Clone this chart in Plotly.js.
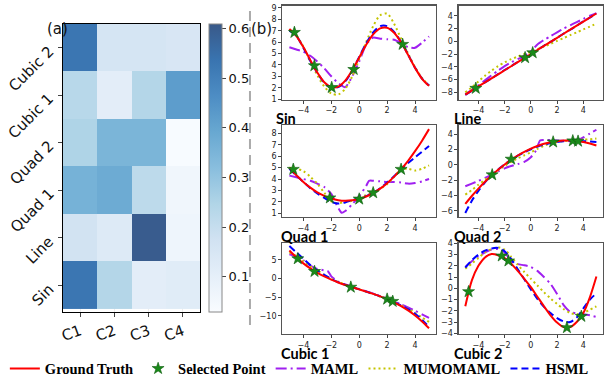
<!DOCTYPE html>
<html>
<head>
<meta charset="utf-8">
<script src="https://cdn.plot.ly/plotly-3.0.1.min.js"></script>
<style>html,body{margin:0;padding:0;background:#fff}#chart{width:606px;height:380px}</style>
</head>
<body>
<div id="chart"></div>
<script>
// ---------- heatmap data ----------
const hmCols = ['C1','C2','C3','C4'];
const hmRows = ['Sin','Line','Quad 1','Quad 2','Cubic 1','Cubic 2'];
const hmSin    = [0.53, 0.24, 0.11, 0.12];
const hmLine   = [0.17, 0.13, 0.60, 0.07];
const hmQuad1  = [0.36, 0.38, 0.22, 0.06];
const hmQuad2  = [0.25, 0.35, 0.35, 0.035];
const hmCubic1 = [0.23, 0.11, 0.24, 0.42];
const hmCubic2 = [0.53, 0.16, 0.16, 0.15];
const cbTicks = [0.1, 0.2, 0.3, 0.4, 0.5, 0.6];

// ---------- curve data ----------
const xs = [-5,-4.5,-4,-3.5,-3,-2.5,-2,-1.5,-1,-0.5,0,0.5,1,1.5,2,2.5,3,3.5,4,4.5,5];

const sinTruth = [7.14,6.53,5.56,4.42,3.33,2.48,2.04,2.09,2.62,3.53,4.65,5.77,6.68,7.21,7.26,6.82,5.98,4.88,3.74,2.78,2.16];
const sinHSML  = [7.0,6.55,5.5,4.35,3.3,2.45,2.0,2.05,2.55,3.5,4.7,5.9,6.85,7.4,7.4,6.9,6.0,4.9,3.75,2.8,2.2];
const sinMUMO  = [7.1,6.6,5.6,4.3,3.1,2.1,1.5,1.4,1.9,3.0,4.5,6.0,7.4,8.35,8.5,7.6,6.3,5.0,3.8,2.85,2.2];
const sinMAMLx = xs;
const sinMAML  = [5.55,5.35,5.15,4.8,4.3,3.7,3.0,2.4,2.05,3.0,4.3,5.8,6.4,6.3,6.25,6.2,5.9,5.55,5.5,5.95,6.5];
const sinStarX = [-4.64,-3.21,-1.97,-0.39,3.11];
const sinStarY = [6.85,3.93,2.02,3.6,5.8];

const lineTruth = [-8.35,-7.72,-7.08,-6.45,-5.81,-5.18,-4.54,-3.91,-3.27,-2.64,-2.0,-1.37,-0.73,-0.1,0.54,1.18,1.81,2.45,3.08,3.72,4.35];
const lineHSML  = [-8.4,-7.75,-7.1,-6.45,-5.8,-5.15,-4.5,-3.9,-3.25,-2.6,-2.0,-1.35,-0.7,-0.1,0.55,1.2,1.8,2.45,3.1,3.7,4.3];
const lineMUMO  = [-8.0,-7.2,-6.3,-5.4,-4.6,-3.9,-3.3,-2.8,-2.4,-2.0,-1.65,-1.25,-0.85,-0.4,0.05,0.5,0.95,1.4,1.85,2.3,2.75];
const lineMAMLx = xs;
const lineMAML  = [-8.3,-7.6,-6.9,-6.1,-5.35,-4.6,-3.9,-3.3,-2.8,-2.3,-1.6,-0.5,0.2,0.8,1.4,2.0,2.5,3.0,3.5,4.0,4.4];
const lineStarX = [-4.2,-0.44,0.14];
const lineStarY = [-7.37,-2.57,-1.8];

const q1Truth = [5.00,4.33,3.75,3.25,2.84,2.53,2.30,2.15,2.10,2.14,2.26,2.47,2.77,3.16,3.64,4.21,4.86,5.60,6.44,7.36,8.37];
const q1HSML  = [4.9,4.3,3.75,3.2,2.75,2.35,2.0,1.85,1.95,2.15,2.3,2.5,2.8,3.2,3.7,4.25,4.85,5.4,5.9,6.4,6.9];
const q1MUMO  = [5.0,4.9,4.7,4.2,3.6,2.8,2.05,1.9,2.0,2.1,2.3,2.6,2.8,3.15,3.55,4.2,4.85,4.9,4.75,4.9,5.2];
const q1MAMLx = [-5,-4.5,-4,-3.5,-3,-2.5,-2,-1.6,-1.25,-1,-0.5,0,0.5,0.7,1,1.5,2,2.5,3,3.5,4,4.5,5];
const q1MAML  = [4.3,4.15,4.0,3.85,3.6,3.3,2.7,1.7,1.05,1.2,1.8,2.5,3.4,3.85,3.85,3.8,3.75,3.75,3.7,3.6,3.65,3.8,4.0];
const q1StarX = [-4.72,-2.1,0.0,1.0,3.0];
const q1StarY = [4.85,2.35,2.25,2.8,4.85];

const q2Truth = [-5.10,-4.07,-3.11,-2.21,-1.39,-0.63,0.06,0.68,1.23,1.71,2.13,2.48,2.76,2.97,3.11,3.19,3.19,3.13,3.00,2.81,2.54];
const q2HSML  = [-6.3,-4.7,-3.4,-2.3,-1.35,-0.6,0.05,0.7,1.2,1.65,2.05,2.4,2.65,2.85,3.0,3.1,3.15,3.15,3.1,3.05,3.0];
const q2MUMO  = [-3.9,-3.3,-2.6,-1.95,-1.35,-0.7,-0.15,0.4,0.85,1.25,1.65,2.1,2.5,2.8,3.0,3.1,3.2,3.25,3.3,3.35,3.45];
const q2MAMLx = [-5,-4.5,-4,-3.5,-3,-2.5,-2,-1.5,-1,-0.5,0,0.4,0.7,1,1.5,2,2.5,3,3.5,4,4.5,5];
const q2MAML  = [-2.8,-2.45,-2.1,-1.7,-1.3,-0.85,-0.45,-0.15,0.1,0.4,1.0,1.9,3.2,3.25,3.25,3.2,3.15,3.1,3.2,3.6,4.1,4.6];
const q2StarX = [-2.95,-1.5,1.7,3.2,3.6];
const q2StarY = [-1.3,0.75,3.0,3.15,3.1];

const c1Truth = [7.49,5.66,4.07,2.72,1.55,0.56,-0.30,-1.05,-1.71,-2.32,-2.9,-3.48,-4.09,-4.75,-5.50,-6.36,-7.35,-8.52,-9.87,-11.46,-13.29];
const c1HSML  = [8.7,7.0,5.3,3.6,2.2,1.0,-0.1,-1.0,-1.7,-2.3,-2.9,-3.5,-4.1,-4.75,-5.5,-6.3,-7.2,-8.2,-9.4,-11.0,-13.0];
const c1MUMO  = [7.0,6.0,4.6,3.3,2.2,1.0,-0.1,-0.9,-1.6,-2.3,-2.9,-3.5,-4.1,-4.8,-5.5,-6.3,-7.2,-8.1,-9.2,-10.4,-11.6];
const c1MAMLx = [-5,-4.5,-4,-3.5,-3,-2.5,-2.25,-2,-1.5,-1,-0.5,0,0.5,1,1.5,2,2.5,3,3.5,4,4.5,5];
const c1MAML  = [6.5,5.9,4.9,3.5,2.6,2.2,2.0,0.6,-0.8,-1.6,-2.2,-2.8,-3.4,-4.0,-4.7,-5.4,-6.1,-6.9,-7.7,-8.6,-9.6,-10.5];
const c1StarX = [-4.4,-3.2,-0.6,2.0,2.4];
const c1StarY = [5.3,1.9,-2.3,-5.5,-6.1];

const c2Truth = [-1.6,0.7,2.0,2.75,3.05,2.95,2.7,2.2,1.55,0.85,0.1,-0.75,-1.6,-2.4,-3.05,-3.45,-3.45,-3.0,-2.2,-0.8,1.05];
const c2HSML  = [1.85,2.5,3.0,3.35,3.55,3.6,3.3,2.6,1.7,0.8,-0.1,-0.95,-1.65,-2.2,-2.65,-2.95,-3.0,-2.6,-1.8,-1.0,-0.45];
const c2MUMO  = [1.75,2.2,2.7,3.2,3.5,3.65,3.45,2.8,2.1,1.45,0.85,0.25,-0.35,-0.9,-1.4,-1.85,-2.2,-2.3,-2.2,-1.9,-1.6];
const c2MAMLx = xs;
const c2MAML  = [1.9,2.4,2.85,3.2,3.45,3.5,3.2,2.4,2.15,2.05,1.9,1.55,1.0,0.4,-0.5,-1.5,-2.1,-2.25,-2.3,-2.4,-2.55];
const c2StarX = [-4.75,-2.22,-1.71,2.75,3.85];
const c2StarY = [-0.3,2.88,2.44,-3.5,-2.5];

const xTicks = [-4,-2,0,2,4];

// ---------- styles ----------
const RED = '#ff0000', BLUE = '#0000ff', PURPLE = '#a020f0', YELLOW = '#c4c400', GREEN = '#1a8a1a';
const blues = [
  [0.000,'rgb(249,252,255)'],[0.125,'rgb(229,239,249)'],[0.250,'rgb(209,226,242)'],
  [0.375,'rgb(177,213,231)'],[0.500,'rgb(137,190,222)'],[0.625,'rgb(104,168,209)'],
  [0.750,'rgb(77,141,196)'],[0.875,'rgb(57,116,176)'],[1.000,'rgb(57,89,137)']
];

const panels = [
  {t:'Sin',    n:2, truth:sinTruth, hs:sinHSML, mu:sinMUMO, mx:sinMAMLx, ma:sinMAML, sx:sinStarX, sy:sinStarY,
   xd:[0.466,0.7195], yd:[0.738,0.9855], yr:[0.96,9.21], dt:1, tx:0.452, ty:0.689},
  {t:'Line',   n:3, truth:lineTruth, hs:lineHSML, mu:lineMUMO, mx:lineMAMLx, ma:lineMAML, sx:lineStarX, sy:lineStarY,
   xd:[0.757,0.995], yd:[0.738,0.9855], yr:[-9.13,5.6], dt:2, tx:0.746, ty:0.689},
  {t:'Quad 1', n:4, truth:q1Truth, hs:q1HSML, mu:q1MUMO, mx:q1MAMLx, ma:q1MAML, sx:q1StarX, sy:q1StarY,
   xd:[0.466,0.7195], yd:[0.429,0.671], yr:[0.68,8.73], dt:1, tx:0.460, ty:0.377},
  {t:'Quad 2', n:5, truth:q2Truth, hs:q2HSML, mu:q2MUMO, mx:q2MAMLx, ma:q2MAML, sx:q2StarX, sy:q2StarY,
   xd:[0.757,0.995], yd:[0.429,0.671], yr:[-6.82,5.22], dt:2, tx:0.746, ty:0.377},
  {t:'Cubic 1',n:6, truth:c1Truth, hs:c1HSML, mu:c1MUMO, mx:c1MAMLx, ma:c1MAML, sx:c1StarX, sy:c1StarY,
   xd:[0.466,0.7195], yd:[0.121,0.361], yr:[-14.83,9.56], dt:5, tx:0.460, ty:0.069},
  {t:'Cubic 2',n:7, truth:c2Truth, hs:c2HSML, mu:c2MUMO, mx:c2MAMLx, ma:c2MAML, sx:c2StarX, sy:c2StarY,
   xd:[0.757,0.995], yd:[0.121,0.361], yr:[-4.07,4.05], dt:1, tx:0.746, ty:0.069}
];

const traces = [{
  type:'heatmap', x:hmCols, y:hmRows,
  z:[hmSin,hmLine,hmQuad1,hmQuad2,hmCubic1,hmCubic2],
  colorscale:blues, zmin:0.029, zmax:0.609, showlegend:false, hoverinfo:'skip',
  colorbar:{x:0.345, xanchor:'left', xpad:0, ypad:0, thickness:13, len:0.758, lenmode:'fraction',
    y:0.179, yanchor:'bottom', outlinecolor:'#888', outlinewidth:1, tickvals:cbTicks,
    ticks:'outside', ticklen:4, tickcolor:'#444', tickfont:{size:13, family:'DejaVu Sans', color:'#111'}}
}];

const layout = {
  width:606, height:380, margin:{l:0,r:0,t:0,b:0, autoexpand:false},
  paper_bgcolor:'#fff', plot_bgcolor:'#fff', showlegend:true,
  legend:{orientation:'h', x:0.008, xanchor:'left', y:-0.012, yanchor:'bottom',
    font:{family:'Liberation Serif', size:14.5, color:'#000', weight:700},
    bgcolor:'rgba(0,0,0,0)', itemwidth:30, traceorder:'normal', tracegroupgap:0},
  xaxis:{domain:[0.104,0.330], showline:true, mirror:true, linecolor:'#000', linewidth:1,
    ticks:'outside', ticklen:4, tickangle:-20, tickfont:{size:15, family:'DejaVu Sans', color:'#111'}, fixedrange:true},
  yaxis:{domain:[0.179,0.937], showline:true, mirror:true, linecolor:'#000', linewidth:1,
    ticks:'outside', ticklen:4, showticklabels:false, fixedrange:true},
  annotations:[
    {text:'(a)', x:0.0743, y:0.952, xref:'paper', yref:'paper', showarrow:false, font:{size:15, family:'DejaVu Sans', color:'#111'}},
    {text:'(b)', x:0.432, y:0.952, xref:'paper', yref:'paper', showarrow:false, font:{size:15, family:'DejaVu Sans', color:'#111'}}
  ],
  shapes:[
    {type:'line', xref:'paper', yref:'paper', x0:0.4125, x1:0.4125, y0:0.145, y1:0.987,
     line:{color:'#aaa', width:2, dash:'10px,6px'}}
  ]
};

// heatmap row labels, rotated 45 degrees, ending at the tick
hmRows.forEach(r => {
  layout.annotations.push({text:r, xref:'paper', yref:'y', x:60/606, y:r, xanchor:'right', yanchor:'top',
    yshift:8, textangle:-45, showarrow:false, font:{size:15, family:'DejaVu Sans', color:'#111'}});
});

panels.forEach((p, i) => {
  const xa = 'x'+p.n, ya = 'y'+p.n, first = (i === 0);
  traces.push({type:'scatter', mode:'lines', x:p.mx, y:p.ma, xaxis:xa, yaxis:ya, name:'MAML', legendrank:3,
    showlegend:first, line:{color:PURPLE, width:2, dash:'11px,4px,2px,4px', shape:'spline', smoothing:0.6}, hoverinfo:'skip'});
  traces.push({type:'scatter', mode:'lines', x:xs, y:p.mu, xaxis:xa, yaxis:ya, name:'MUMOMAML', legendrank:4,
    showlegend:first, line:{color:YELLOW, width:2, dash:'2px,3px', shape:'spline', smoothing:0.8}, hoverinfo:'skip'});
  traces.push({type:'scatter', mode:'lines', x:xs, y:p.hs, xaxis:xa, yaxis:ya, name:'HSML', legendrank:5,
    showlegend:first, line:{color:BLUE, width:2, dash:'7px,4px', shape:'spline', smoothing:0.8}, hoverinfo:'skip'});
  traces.push({type:'scatter', mode:'lines', x:xs, y:p.truth, xaxis:xa, yaxis:ya, name:'Ground Truth', legendrank:1,
    showlegend:first, line:{color:RED, width:2, shape:'spline', smoothing:0.8}, hoverinfo:'skip'});
  traces.push({type:'scatter', mode:'markers', x:p.sx, y:p.sy, xaxis:xa, yaxis:ya, name:'Selected Point', legendrank:2,
    showlegend:first, marker:{symbol:'star', size:9, color:GREEN, line:{color:'#0b5a0b', width:0.6}}, hoverinfo:'skip'});

  const axBase = {showline:true, mirror:true, linecolor:'#555', linewidth:1.3, ticks:'outside', ticklen:3,
    tickcolor:'#444', tickfont:{size:8, family:'DejaVu Sans', color:'#222'}, showgrid:false, zeroline:false, fixedrange:true};
  layout['xaxis'+p.n] = Object.assign({}, axBase, {domain:p.xd, range:[-5.5,5.5], tickvals:xTicks, anchor:ya});
  layout['yaxis'+p.n] = Object.assign({}, axBase, {domain:p.yd, range:p.yr, dtick:p.dt, tick0:0, anchor:xa});
  layout.annotations.push({text:p.t, x:p.tx, y:p.ty, xref:'paper', yref:'paper', xanchor:'left', yanchor:'middle',
    showarrow:false, font:{size:14.5, family:'Lato', weight:700, color:'#000'}});
});

Plotly.newPlot('chart', traces, layout, {staticPlot:true, displayModeBar:false});
</script>
</body>
</html>
